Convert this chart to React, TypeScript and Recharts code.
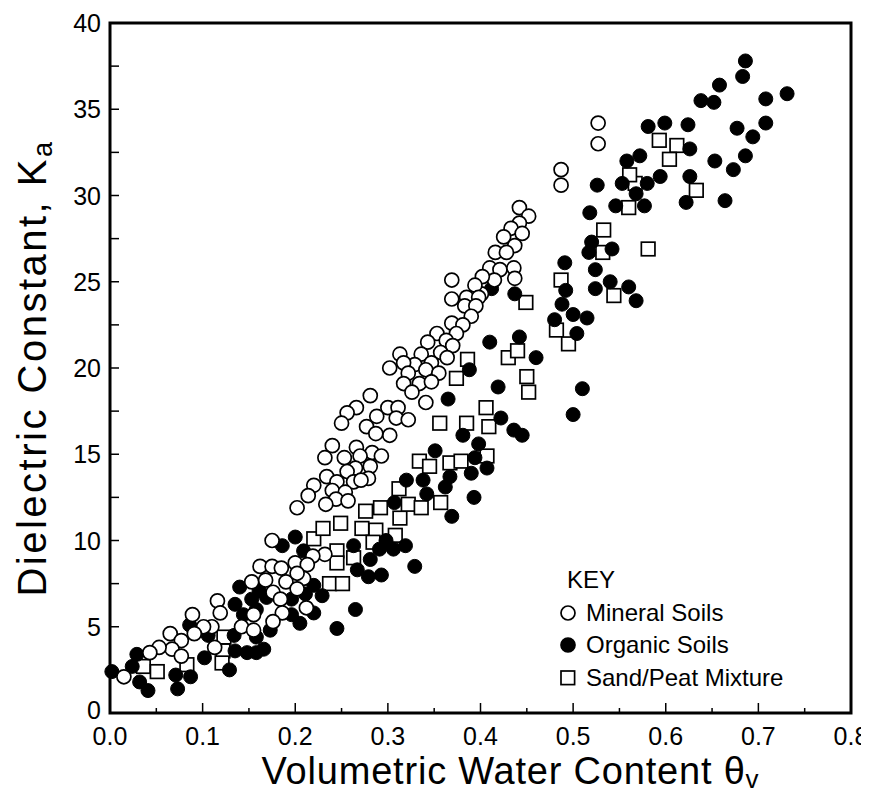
import React from "react";
import { ScatterChart, Scatter, XAxis, YAxis, ReferenceArea } from "recharts";

const mineral: [number, number][] = [
  [0.527, 34.2], [0.527, 33.0], [0.487, 31.5], [0.487, 30.6],
  [0.442, 29.3], [0.452, 28.8], [0.442, 28.4], [0.433, 28.1], [0.445, 27.8], [0.425, 27.6], [0.437, 27.1], [0.416, 26.7], [0.428, 26.7], [0.41, 25.8], [0.421, 25.7], [0.436, 25.8], [0.437, 25.2], [0.415, 25.1], [0.402, 25.3], [0.401, 24.3],
  [0.369, 25.1], [0.369, 24.0], [0.394, 24.8], [0.385, 24.1], [0.398, 24.1], [0.383, 23.6], [0.395, 23.6], [0.39, 23.0], [0.369, 22.6], [0.381, 22.5], [0.374, 22.0], [0.353, 22.0], [0.363, 21.6], [0.343, 21.5], [0.37, 21.3], [0.357, 20.9], [0.336, 20.8], [0.313, 20.8], [0.347, 20.3], [0.329, 20.2], [0.317, 20.3], [0.302, 20.0], [0.364, 20.6], [0.341, 19.9], [0.355, 19.7], [0.322, 19.7], [0.317, 19.1], [0.334, 19.1], [0.347, 19.2], [0.326, 18.6], [0.341, 18.0],
  [0.281, 18.4], [0.266, 17.7], [0.256, 17.4], [0.3, 17.7], [0.311, 17.7], [0.288, 17.2], [0.277, 16.6], [0.309, 17.1], [0.322, 17.0], [0.302, 16.1], [0.287, 16.2], [0.25, 16.8], [0.266, 15.4], [0.24, 15.5], [0.283, 15.1], [0.27, 14.9], [0.293, 14.9], [0.232, 14.8], [0.253, 14.8], [0.281, 14.3], [0.265, 14.2], [0.256, 14.0], [0.279, 13.6], [0.263, 13.4], [0.234, 13.7], [0.245, 13.4], [0.271, 13.5], [0.22, 13.2], [0.214, 12.6], [0.24, 12.9], [0.254, 12.8], [0.244, 12.4], [0.233, 12.1], [0.257, 12.3], [0.202, 11.9],
  [0.175, 10.0], [0.232, 9.2], [0.219, 9.1], [0.162, 8.5], [0.175, 8.5], [0.185, 8.4], [0.2, 8.7], [0.213, 8.6], [0.209, 7.8], [0.153, 7.6], [0.168, 7.7], [0.19, 7.6], [0.202, 8.1], [0.176, 7.0], [0.184, 6.6], [0.202, 7.2], [0.212, 6.1], [0.186, 5.8], [0.176, 5.3],
  [0.116, 6.5], [0.089, 5.7], [0.119, 5.8], [0.155, 5.7], [0.142, 5.0], [0.155, 4.8], [0.11, 5.0], [0.101, 5.0], [0.091, 4.6], [0.065, 4.6], [0.077, 4.2], [0.067, 3.7], [0.053, 3.8], [0.043, 3.5], [0.077, 3.3], [0.113, 3.8], [0.015, 2.1],
];

const organic: [number, number][] = [
  [0.686, 37.8], [0.683, 36.9], [0.658, 36.4], [0.638, 35.5], [0.652, 35.4], [0.708, 35.6], [0.731, 35.9], [0.581, 34.0], [0.599, 34.2], [0.624, 34.1], [0.677, 33.9], [0.708, 34.2], [0.694, 33.4], [0.626, 32.7], [0.686, 32.3], [0.653, 32.0], [0.673, 31.5], [0.558, 32.0], [0.572, 32.3], [0.594, 31.1], [0.58, 30.7], [0.553, 30.7], [0.568, 30.1], [0.626, 31.1], [0.622, 29.6], [0.664, 29.7], [0.546, 29.4], [0.577, 29.4], [0.542, 26.9],
  [0.526, 30.6], [0.518, 29.0], [0.52, 27.3], [0.517, 26.7], [0.524, 25.7], [0.54, 25.0], [0.524, 24.6], [0.56, 24.7], [0.568, 23.9], [0.491, 26.1], [0.492, 24.5], [0.488, 23.7], [0.5, 23.1], [0.515, 22.9], [0.48, 22.8], [0.504, 22.0],
  [0.412, 24.6], [0.437, 24.3], [0.41, 21.5], [0.442, 21.8], [0.46, 20.6], [0.388, 19.9], [0.419, 18.9], [0.365, 18.2], [0.51, 18.8], [0.5, 17.3], [0.422, 17.1], [0.436, 16.4], [0.445, 16.1], [0.381, 16.1], [0.398, 15.6], [0.351, 15.2], [0.394, 14.8], [0.407, 14.2], [0.39, 13.9], [0.367, 13.7], [0.32, 13.5], [0.338, 13.5], [0.362, 13.1], [0.342, 12.7], [0.393, 12.5], [0.307, 12.2], [0.369, 11.4],
  [0.298, 10.0], [0.319, 9.7], [0.263, 9.7], [0.291, 9.5], [0.306, 9.5], [0.281, 8.9], [0.329, 8.5], [0.267, 8.3], [0.279, 7.9], [0.293, 8.0], [0.22, 7.4], [0.211, 6.9], [0.229, 6.8], [0.2, 10.2], [0.186, 9.7], [0.209, 9.4], [0.22, 5.8], [0.245, 4.9], [0.265, 6.0],
  [0.002, 2.4], [0.029, 3.4], [0.024, 2.7], [0.032, 1.8], [0.041, 1.3], [0.073, 1.4], [0.071, 2.2], [0.087, 2.1], [0.086, 5.1], [0.106, 4.5], [0.102, 3.2], [0.129, 2.5], [0.134, 4.5], [0.14, 7.3], [0.135, 6.3], [0.144, 5.7], [0.158, 4.4], [0.173, 4.8], [0.166, 3.7], [0.158, 3.5], [0.148, 3.5], [0.135, 3.6], [0.161, 7.1], [0.153, 6.6], [0.169, 6.7], [0.158, 6.0], [0.196, 6.6], [0.205, 5.2], [0.196, 5.7],
];

const sandPeat: [number, number][] = [
  [0.036, 2.7], [0.051, 2.4], [0.083, 2.8], [0.123, 4.4], [0.122, 3.6], [0.121, 2.9],
  [0.22, 10.1], [0.23, 10.7], [0.249, 11.0], [0.272, 10.7], [0.287, 10.6], [0.276, 11.7], [0.292, 11.9], [0.284, 9.9], [0.245, 9.4], [0.245, 8.7], [0.263, 9.0], [0.237, 7.5], [0.251, 7.5],
  [0.313, 11.3], [0.308, 10.3], [0.322, 12.1], [0.336, 11.9], [0.357, 12.2], [0.312, 13.0], [0.334, 14.6], [0.345, 14.3], [0.367, 14.5], [0.379, 14.6], [0.407, 14.9],
  [0.356, 16.8], [0.385, 16.8], [0.409, 16.6], [0.406, 17.7], [0.374, 19.4], [0.386, 20.5], [0.43, 20.6], [0.44, 21.0], [0.45, 19.5], [0.452, 18.6], [0.449, 23.8],
  [0.487, 25.1], [0.482, 22.2], [0.495, 21.4], [0.533, 28.0], [0.532, 26.7], [0.544, 24.2], [0.56, 29.3], [0.567, 30.7], [0.561, 31.2], [0.581, 26.9], [0.593, 33.2], [0.612, 32.9], [0.604, 32.1], [0.633, 30.3],
];

const xTicks = [0, 0.05, 0.1, 0.15, 0.2, 0.25, 0.3, 0.35, 0.4, 0.45, 0.5, 0.55, 0.6, 0.65, 0.7, 0.75, 0.8];
const yTicks = [0, 2.5, 5, 7.5, 10, 12.5, 15, 17.5, 20, 22.5, 25, 27.5, 30, 32.5, 35, 37.5, 40];

const legendItems = [
  { name: "Mineral Soils", kind: "open" },
  { name: "Organic Soils", kind: "filled" },
  { name: "Sand/Peat Mixture", kind: "square" },
];

const FONT = "'Liberation Sans', Arial, Helvetica, sans-serif";
const R = 7;
const TM = 8;

const toPts = (a: [number, number][]) => a.map(([x, y]) => ({ x, y }));

const OpenCircle = (p: any) => (
  <circle cx={p.cx} cy={p.cy} r={R} fill="#fff" stroke="#000" strokeWidth={1.7} />
);
const FilledCircle = (p: any) => (
  <circle cx={p.cx} cy={p.cy} r={R} fill="#000" stroke="#000" strokeWidth={1} />
);
const Square = (p: any) => (
  <rect x={p.cx - 6.8} y={p.cy - 6.8} width={13.6} height={13.6} fill="#fff" stroke="#000" strokeWidth={1.7} />
);

const XTick = (props: any) => {
  const { x, y, payload } = props;
  const v = payload.value;
  const major = Math.abs(v * 10 - Math.round(v * 10)) < 1e-6;
  const axisY = y - TM;
  return (
    <g>
      <line x1={x} x2={x} y1={axisY} y2={axisY - (major ? 10 : 5)} stroke="#000" strokeWidth={1.5} />
      {major && (
        <text x={x} y={axisY + 32} textAnchor="middle" fontSize={25} fontFamily={FONT} fill="#000">
          {v.toFixed(1)}
        </text>
      )}
    </g>
  );
};

const YTick = (props: any) => {
  const { x, y, payload } = props;
  const v = payload.value;
  const major = v % 5 === 0;
  const axisX = x + TM;
  return (
    <g>
      <line x1={axisX} x2={axisX + 9} y1={y} y2={y} stroke="#000" strokeWidth={1.5} />
      {major && (
        <text x={x - 1} y={y + (v === 0 ? 6 : 9)} textAnchor="end" fontSize={25} fontFamily={FONT} fill="#000">
          {String(v)}
        </text>
      )}
    </g>
  );
};

const XTitle = (props: any) => {
  const vb = props.viewBox || {};
  const cx = vb.x + vb.width / 2 + 30;
  return (
    <text x={cx} y={vb.y + 71} textAnchor="middle" fontSize={38} letterSpacing={0.8} fontFamily={FONT} fill="#000">
      Volumetric Water Content  θ<tspan fontSize={26} dy={4}>v</tspan>
    </text>
  );
};

const YTitle = (props: any) => {
  const vb = props.viewBox || {};
  const cy = vb.y + vb.height / 2;
  const cx = vb.x + 38;
  return (
    <text x={cx} y={cy} transform={`rotate(-90 ${cx} ${cy})`} textAnchor="middle" fontSize={40} letterSpacing={2.5} fontFamily={FONT} fill="#000">
      Dielectric Constant, K<tspan fontSize={27} dy={6}>a</tspan>
    </text>
  );
};

const LegendMarker = ({ kind }: { kind: string }) => (
  <svg width={18} height={18} style={{ display: "block" }}>
    {kind === "square" ? (
      <rect x={2} y={2} width={13.6} height={13.6} fill="#fff" stroke="#000" strokeWidth={1.7} />
    ) : (
      <circle cx={9} cy={9} r={R} fill={kind === "filled" ? "#000" : "#fff"} stroke="#000" strokeWidth={1.7} />
    )}
  </svg>
);

export default function App() {
  return (
    <div style={{ position: "relative", width: 861, height: 786 }}>
      <ScatterChart width={861} height={786} margin={{ top: 15, right: 18, left: 0, bottom: 0 }}>
        <XAxis
          type="number"
          dataKey="x"
          domain={[0, 0.8]}
          ticks={xTicks}
          interval={0}
          tick={<XTick />}
          tickLine={false}
          axisLine={false}
          tickSize={0}
          tickMargin={TM}
          height={81}
          label={<XTitle />}
        />
        <YAxis
          type="number"
          dataKey="y"
          domain={[0, 40]}
          ticks={yTicks}
          interval={0}
          tick={<YTick />}
          tickLine={false}
          axisLine={false}
          tickSize={0}
          tickMargin={TM}
          width={102}
          label={<YTitle />}
        />
        <Scatter name="Sand/Peat Mixture" data={toPts(sandPeat)} shape={Square} isAnimationActive={false} />
        <Scatter name="Organic Soils" data={toPts(organic)} shape={FilledCircle} isAnimationActive={false} />
        <Scatter name="Mineral Soils" data={toPts(mineral)} shape={OpenCircle} isAnimationActive={false} />
        <ReferenceArea x1={0} x2={0.8} y1={0} y2={40} fill="none" stroke="#000" strokeWidth={3} ifOverflow="visible" />
      </ScatterChart>
      <div style={{ position: "absolute", left: 551, top: 556, fontFamily: FONT, fontSize: 24, color: "#000", lineHeight: "32.5px" }}>
        <div style={{ marginLeft: 8 }}>KEY</div>
        {legendItems.map((it) => (
          <div key={it.name} style={{ display: "flex", alignItems: "center" }}>
            <LegendMarker kind={it.kind} />
            <span style={{ marginLeft: 9 }}>{it.name}</span>
          </div>
        ))}
      </div>
    </div>
  );
}
